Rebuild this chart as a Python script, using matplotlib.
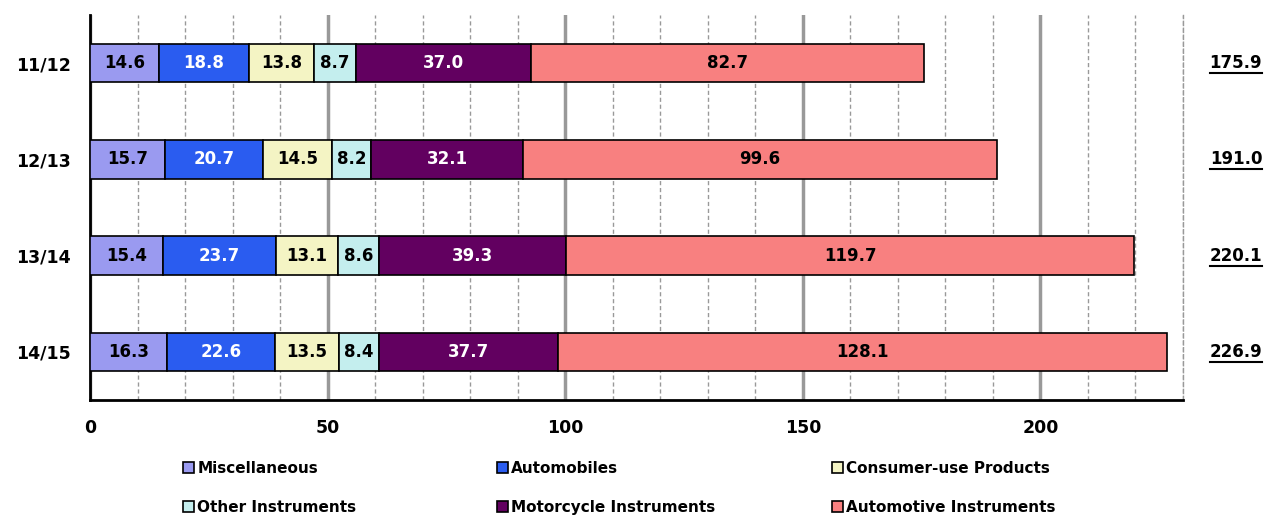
import matplotlib
matplotlib.use('Agg')
import matplotlib.pyplot as plt
from matplotlib.lines import Line2D
from matplotlib.ticker import MultipleLocator

years = ['11/12', '12/13', '13/14', '14/15']
series = ['Miscellaneous', 'Automobiles', 'Consumer-use Products',
          'Other Instruments', 'Motorcycle Instruments', 'Automotive Instruments']
Miscellaneous = [14.6, 15.7, 15.4, 16.3]
Automobiles = [18.8, 20.7, 23.7, 22.6]
ConsumerUse = [13.8, 14.5, 13.1, 13.5]
OtherInstruments = [8.7, 8.2, 8.6, 8.4]
MotorcycleInstruments = [37.0, 32.1, 39.3, 37.7]
AutomotiveInstruments = [82.7, 99.6, 119.7, 128.1]
totals = [175.9, 191.0, 220.1, 226.9]

colors = ['#9a9af0', '#2a5cf0', '#f4f4c4', '#c4eeee', '#620060', '#f88080']
txtcol = ['black', 'white', 'black', 'black', 'white', 'black']

plt.rcParams['font.family'] = 'DejaVu Sans'
plt.rcParams['font.weight'] = 'bold'

fig = plt.figure(figsize=(12.66, 5.15), dpi=100)
ax = fig.add_axes([0.0711, 0.2233, 0.8633, 0.7476])

data = [Miscellaneous, Automobiles, ConsumerUse, OtherInstruments,
        MotorcycleInstruments, AutomotiveInstruments]
left = [0] * len(years)
handles = []
for vals, name, c, tc in zip(data, series, colors, txtcol):
    bars = ax.barh(years, vals, 0.4, left=left, color=c, edgecolor='black',
                   linewidth=1.2, label=name, zorder=3)
    ax.bar_label(bars, labels=['%.1f' % v for v in vals], label_type='center',
                 color=tc, fontsize=12, fontweight='bold')
    handles.append(bars)
    left = [left[j] + vals[j] for j in range(len(vals))]

ax.set_xlim(0, 230)
ax.set_ylim(3.5, -0.5)
ax.xaxis.set_major_locator(MultipleLocator(50))
ax.xaxis.set_minor_locator(MultipleLocator(10))
ax.grid(which='minor', axis='x', color='#999999', linestyle=(0, (3, 2)), linewidth=1, zorder=0)
ax.grid(which='major', axis='x', color='#999999', linestyle='-', linewidth=2.5, zorder=1)
ax.set_axisbelow(True)
ax.spines['top'].set_visible(False)
ax.spines['right'].set_color('#999999')
ax.spines['right'].set_linewidth(1)
ax.spines['right'].set_linestyle((0, (3, 2)))
ax.spines['left'].set_linewidth(2)
ax.spines['bottom'].set_linewidth(2)
ax.tick_params(axis='both', which='both', length=0, labelsize=12.5)
ax.tick_params(axis='x', pad=14)
ax.tick_params(axis='y', pad=14)
for lab in ax.get_xticklabels() + ax.get_yticklabels():
    lab.set_fontweight('bold')

# totals at the right, underlined
tot_texts = []
for i, t in enumerate(totals):
    tt = ax.text(1.0485, i, '%.1f' % t, transform=ax.get_yaxis_transform(),
                 ha='center', va='center', fontsize=12, fontweight='bold')
    tot_texts.append(tt)

# legend: three columns, each its own legend so they line up like the original
col_x = [0.134, 0.382, 0.6466]
for k in range(3):
    idx = [k, k + 3]
    leg = fig.legend([handles[i] for i in idx], [series[i] for i in idx],
                     ncol=1, loc='lower left', bbox_to_anchor=(col_x[k], -0.026),
                     frameon=False, fontsize=11, handlelength=0.7, handleheight=0.7,
                     handletextpad=0.2, labelspacing=1.55)
    for txt in leg.get_texts():
        txt.set_fontweight('bold')

fig.canvas.draw()
for tt in tot_texts:
    bb = tt.get_window_extent()
    fig.add_artist(Line2D([bb.x0, bb.x1], [bb.y0 - 1, bb.y0 - 1], color='black',
                          linewidth=1.5, transform=None))

fig.savefig('out.png', dpi=100)
